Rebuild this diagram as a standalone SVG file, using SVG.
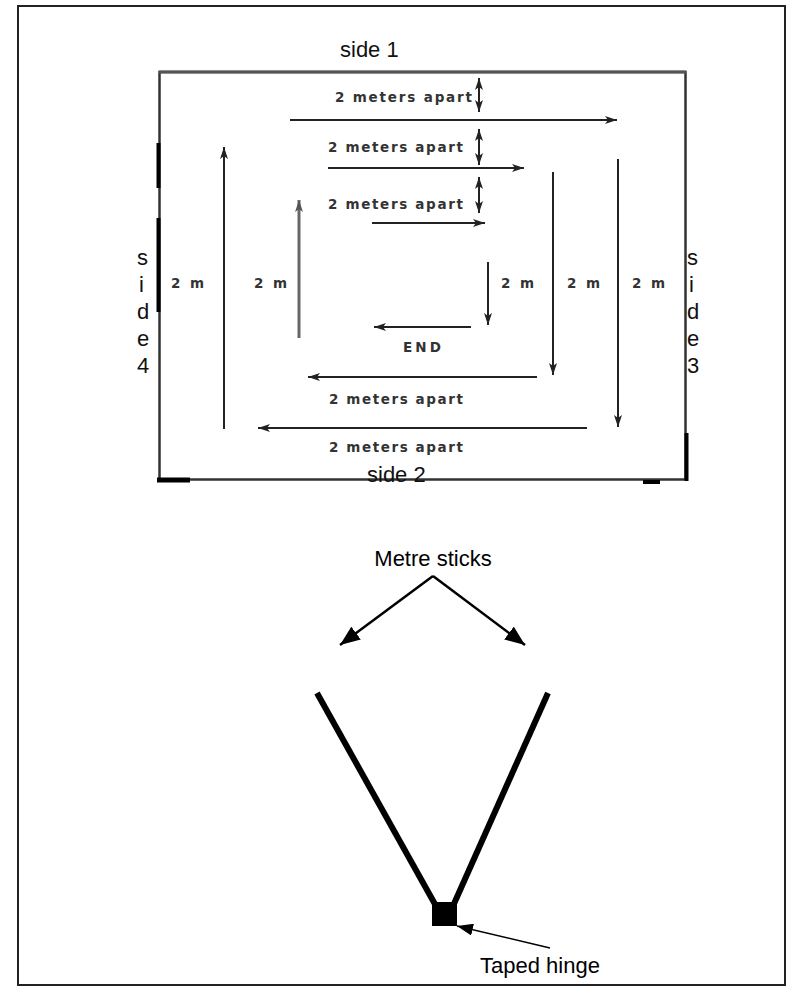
<svg xmlns="http://www.w3.org/2000/svg" width="803" height="1002" viewBox="0 0 803 1002">
<style>
.ln{stroke:#222;stroke-width:2;fill:none}
.lbl{font-family:"DejaVu Sans",sans-serif;font-weight:bold;font-size:13.5px;fill:#333}
.side{font-family:"Liberation Sans",Arial,sans-serif;font-size:22px;fill:#111}
.big{font-family:"Liberation Sans",Arial,sans-serif;font-size:22px;fill:#000}
</style>
<defs>
<marker id="ah" viewBox="0 0 12 8" refX="12" refY="4" markerWidth="12" markerHeight="8" markerUnits="userSpaceOnUse" orient="auto-start-reverse"><path d="M0,0 L12,4 L0,8 L3,4 z" fill="#222"/></marker>
<marker id="ahg" viewBox="0 0 12 8" refX="12" refY="4" markerWidth="12" markerHeight="8" markerUnits="userSpaceOnUse" orient="auto"><path d="M0,0 L12,4 L0,8 L3,4 z" fill="#555"/></marker>
<marker id="bh" viewBox="0 0 20 16" refX="20" refY="8" markerWidth="20" markerHeight="16" markerUnits="userSpaceOnUse" orient="auto"><path d="M0,0 L20,8 L0,16 z" fill="#000"/></marker>
<marker id="sh" viewBox="0 0 16 12" refX="16" refY="6" markerWidth="16" markerHeight="12" markerUnits="userSpaceOnUse" orient="auto"><path d="M0,0 L16,6 L0,12 z" fill="#000"/></marker>
</defs>
<rect x="18" y="6" width="767" height="979" fill="none" stroke="#222" stroke-width="2"/>

<g id="field">
<rect x="159.5" y="72" width="526" height="407.5" fill="none" stroke="#333" stroke-width="2.5"/>
<line x1="159" y1="72" x2="686" y2="72" stroke="#555" stroke-width="3"/>
<line x1="158.5" y1="143" x2="158.5" y2="188" stroke="#000" stroke-width="4"/>
<line x1="158.5" y1="218" x2="158.5" y2="312" stroke="#000" stroke-width="4"/>
<line x1="157" y1="480" x2="190" y2="480" stroke="#000" stroke-width="5"/>
<line x1="686.5" y1="433" x2="686.5" y2="481" stroke="#000" stroke-width="4"/>
<line x1="643" y1="482" x2="660" y2="482" stroke="#000" stroke-width="4"/>
</g>

<g id="side-labels">
<text class="side" x="340" y="57">side 1</text>
<text class="side" x="367" y="482">side 2</text>
<text class="side" x="687" y="265">s</text>
<text class="side" x="689" y="292">i</text>
<text class="side" x="687" y="319">d</text>
<text class="side" x="687" y="346">e</text>
<text class="side" x="687" y="373">3</text>
<text class="side" x="137" y="265">s</text>
<text class="side" x="139" y="292">i</text>
<text class="side" x="137" y="319">d</text>
<text class="side" x="137" y="346">e</text>
<text class="side" x="137" y="373">4</text>
</g>

<g id="connectors">
<line class="ln" x1="290" y1="120" x2="617" y2="120" marker-end="url(#ah)"/>
<line class="ln" x1="328" y1="168" x2="524" y2="168" marker-end="url(#ah)"/>
<line class="ln" x1="372" y1="223" x2="485" y2="223" marker-end="url(#ah)"/>
<line class="ln" x1="479" y1="78" x2="479" y2="112" marker-start="url(#ah)" marker-end="url(#ah)"/>
<line class="ln" x1="479" y1="129" x2="479" y2="165" marker-start="url(#ah)" marker-end="url(#ah)"/>
<line class="ln" x1="479" y1="177" x2="479" y2="213" marker-start="url(#ah)" marker-end="url(#ah)"/>
<line class="ln" x1="224" y1="429" x2="224" y2="147" marker-end="url(#ah)"/>
<line x1="299" y1="338" x2="299" y2="200" stroke="#666" stroke-width="3" marker-end="url(#ahg)"/>
<line class="ln" x1="553" y1="172" x2="553" y2="375" marker-end="url(#ah)"/>
<line class="ln" x1="618" y1="159" x2="618" y2="427" marker-end="url(#ah)"/>
<line class="ln" x1="488" y1="262" x2="488" y2="325" marker-end="url(#ah)"/>
<line class="ln" x1="471" y1="327" x2="374" y2="327" marker-end="url(#ah)"/>
<line class="ln" x1="537" y1="377" x2="308" y2="377" marker-end="url(#ah)"/>
<line class="ln" x1="587" y1="428" x2="258" y2="428" marker-end="url(#ah)"/>
<line x1="433" y1="576" x2="340" y2="645" stroke="#000" stroke-width="2.5" marker-end="url(#bh)"/>
<line x1="433" y1="576" x2="525" y2="645" stroke="#000" stroke-width="2.5" marker-end="url(#bh)"/>
<line x1="550" y1="948" x2="457" y2="926" stroke="#000" stroke-width="1.5" marker-end="url(#sh)"/>
</g>

<g id="field-labels">
<text class="lbl" x="335" y="102" textLength="137" lengthAdjust="spacing">2 meters apart</text>
<text class="lbl" x="328" y="152" textLength="135" lengthAdjust="spacing">2 meters apart</text>
<text class="lbl" x="328" y="209" textLength="135" lengthAdjust="spacing">2 meters apart</text>
<text class="lbl" x="329" y="404" textLength="134" lengthAdjust="spacing">2 meters apart</text>
<text class="lbl" x="329" y="452" textLength="134" lengthAdjust="spacing">2 meters apart</text>
<text class="lbl" x="171" y="288" textLength="33" lengthAdjust="spacing">2 m</text>
<text class="lbl" x="254" y="288" textLength="33" lengthAdjust="spacing">2 m</text>
<text class="lbl" x="501" y="288" textLength="33" lengthAdjust="spacing">2 m</text>
<text class="lbl" x="567" y="288" textLength="33" lengthAdjust="spacing">2 m</text>
<text class="lbl" x="632" y="288" textLength="33" lengthAdjust="spacing">2 m</text>
<text class="lbl" x="403" y="352" textLength="38" lengthAdjust="spacing">END</text>
</g>

<g id="metre-sticks">
<text class="big" x="433" y="566" text-anchor="middle">Metre sticks</text>
<line x1="317" y1="693" x2="436" y2="906" stroke="#000" stroke-width="6"/>
<line x1="548" y1="693" x2="453" y2="906" stroke="#000" stroke-width="6"/>
</g>

<g id="hinge">
<rect x="432" y="902" width="25" height="24" fill="#000"/>
<text class="big" x="480" y="973">Taped hinge</text>
</g>
</svg>
